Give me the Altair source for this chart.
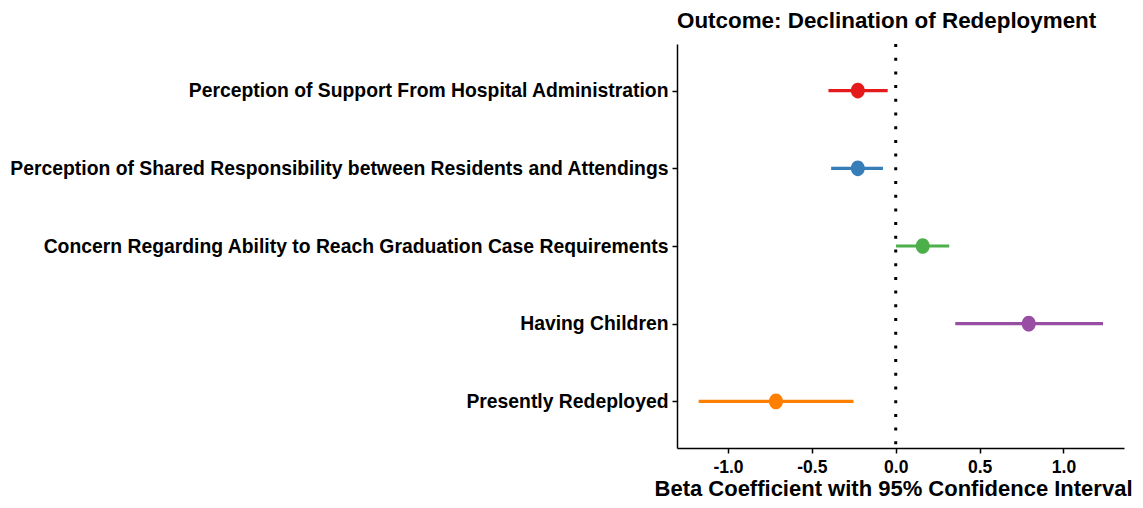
import altair as alt
import pandas as pd

labels = [
    "Perception of Support From Hospital Administration",
    "Perception of Shared Responsibility between Residents and Attendings",
    "Concern Regarding Ability to Reach Graduation Case Requirements",
    "Having Children",
    "Presently Redeployed",
]
beta = [-0.226, -0.226, 0.161, 0.793, -0.714]
lower = [-0.401, -0.385, 0.002, 0.355, -1.175]
upper = [-0.048, -0.076, 0.319, 1.236, -0.252]
colors = ["#E41A1C", "#377EB8", "#4DAF4A", "#984EA3", "#FF7F00"]

df = pd.DataFrame({"label": labels, "beta": beta, "lo": lower, "hi": upper})

FONT = "Liberation Sans"
ELLIPSE = "M -0.89 0 A 0.89 1 0 1 0 0.89 0 A 0.89 1 0 1 0 -0.89 0 Z"

x_scale = alt.Scale(domain=[-1.304, 1.361], nice=False, zero=False)
y_enc = alt.Y("label:N", sort=labels, scale=alt.Scale(type="point", padding=0.6),
              axis=alt.Axis(title=None, labelFontSize=19.35, labelFontWeight="bold",
                            labelFont=FONT, labelColor="black", labelLimit=1000,
                            tickSize=5, tickColor="black", domainColor="black",
                            labelPadding=4))
color_enc = alt.Color("label:N", scale=alt.Scale(domain=labels, range=colors), legend=None)

bars = alt.Chart(df).mark_rule(strokeWidth=3.2).encode(
    x=alt.X("lo:Q", scale=x_scale,
            axis=alt.Axis(title="Beta Coefficient with 95% Confidence Interval",
                          values=[-1.0, -0.5, 0.0, 0.5, 1.0],
                          labelExpr="replace(format(datum.value, '.1f'), '\u2212', '-')",
                          labelFontSize=17.5, labelFontWeight="bold", labelFont=FONT,
                          labelColor="black", titleFontSize=22, titleFontWeight="bold",
                          titleFont=FONT, titleColor="black", tickSize=5,
                          tickColor="black", domainColor="black", grid=False,
                          labelPadding=5, titleX=216, titleY=47,
                          titleBaseline="alphabetic")),
    x2="hi:Q",
    y=y_enc,
    color=color_enc,
)

points = alt.Chart(df).mark_point(filled=True, shape=ELLIPSE, size=246, opacity=1).encode(
    x=alt.X("beta:Q", scale=x_scale),
    y=alt.Y("label:N", sort=labels),
    color=color_enc,
)

zero = alt.Chart(pd.DataFrame({"z": [0.0]})).mark_rule(
    color="black", strokeWidth=3, strokeDash=[3, 10.7]
).encode(x=alt.X("z:Q", scale=x_scale))

chart = (bars + zero + points).properties(
    width=447, height=404,
    autosize=alt.AutoSizeParams(type="none"),
    padding={"left": 669, "top": 36, "right": 9, "bottom": 48},
    title=alt.TitleParams("Outcome: Declination of Redeployment", anchor="start",
                          frame="group", fontSize=22.4, fontWeight="bold", font=FONT,
                          color="black", offset=10),
).configure_view(stroke=None).configure_axisY(grid=False).configure_axis(domainWidth=1.5, tickWidth=1.5)

chart.save("out.html", embed_options={"renderer": "svg", "actions": False})
